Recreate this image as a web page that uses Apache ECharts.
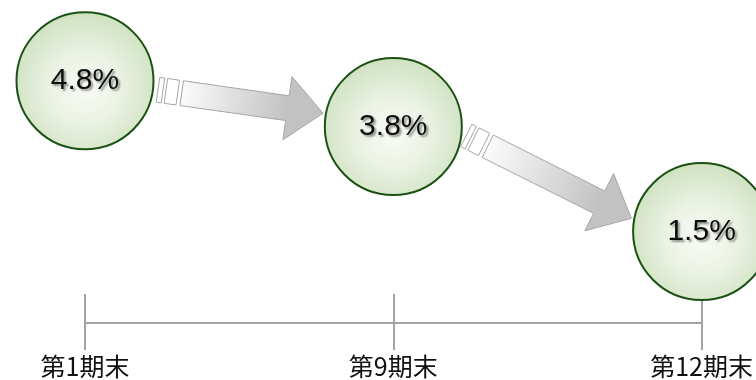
<!DOCTYPE html>
<html>
<head>
<meta charset="utf-8">
<script src="https://cdn.jsdelivr.net/npm/echarts@6/dist/echarts.min.js"></script>
<style>
  html, body { margin: 0; padding: 0; background: #ffffff; }
  #chart { width: 756px; height: 380px; }
</style>
</head>
<body>
<div id="chart"></div>
<script>
// Period labels along the timeline and the rate shown in each bubble (%)
const periods = ['第1期末', '第9期末', '第12期末'];
const rates = [4.8, 3.8, 1.5];

const chart = echarts.init(document.getElementById('chart'), null, { renderer: 'canvas' });

const BUBBLE = 137;                       // bubble diameter in px
const points = rates.map((v, i) => [i, v]);
// each arrow joins one bubble to the next
const links = rates.slice(0, -1).map((v, i) => [i, v, i + 1, rates[i + 1]]);

const AXIS_GRAY = '#a3a3a3';
const CJK = '"Noto Sans CJK JP", "Noto Sans CJK SC", sans-serif';

function arrowItem(params, api) {
  const a = api.coord([api.value(0), api.value(1)]);
  const b = api.coord([api.value(2), api.value(3)]);
  const r = BUBBLE / 2;
  const sAng = 7 * Math.PI / 180;
  const eAng = 10.7 * Math.PI / 180;
  const s = [a[0] + (r + 5) * Math.cos(sAng), a[1] + (r + 5) * Math.sin(sAng)];
  const e = [b[0] - (r + 3) * Math.cos(eAng), b[1] - (r + 3) * Math.sin(eAng)];
  const dx = e[0] - s[0], dy = e[1] - s[1];
  const L = Math.hypot(dx, dy);
  const ux = dx / L, uy = dy / L;
  const vx = -uy, vy = ux;
  const P = (u, v) => [s[0] + u * ux + v * vx, s[1] + u * uy + v * vy];
  const hw = 12.5, headLen = 36, headHw = 32, bodyStart = 24;
  const stroke = '#a6a6a6';
  const rect = (u0, u1) => ({
    type: 'polygon',
    shape: { points: [P(u0, -hw), P(u1, -hw), P(u1, hw), P(u0, hw)] },
    style: { fill: '#ffffff', stroke: stroke, lineWidth: 1 }
  });
  const g0 = P(bodyStart, 0), g1 = P(L - headLen, 0);
  return {
    type: 'group',
    children: [
      rect(0, 5),
      rect(8, 20),
      {
        type: 'polygon',
        shape: {
          points: [
            P(bodyStart, -hw), P(L - headLen, -hw), P(L - headLen, -headHw),
            P(L, 0),
            P(L - headLen, headHw), P(L - headLen, hw), P(bodyStart, hw)
          ]
        },
        style: {
          fill: new echarts.graphic.LinearGradient(g0[0], g0[1], g1[0], g1[1], [
            { offset: 0, color: '#fbfbfb' },
            { offset: 1, color: '#c2c2c2' }
          ], true),
          stroke: stroke,
          lineWidth: 1
        }
      }
    ]
  };
}

// the timeline sits below the zero level, so the value range starts under 0
const gridBox = { left: 85, right: 54, top: 26, bottom: 57 };
const Y_MIN = -0.5, Y_MAX = 6;

chart.setOption({
  animation: false,
  backgroundColor: '#ffffff',
  grid: [Object.assign({}, gridBox), Object.assign({}, gridBox)],
  xAxis: [
    {
      gridIndex: 0,
      type: 'category',
      data: periods,
      boundaryGap: false,
      position: 'bottom',
      axisLine: { onZero: false, lineStyle: { color: AXIS_GRAY, width: 2 } },
      axisTick: { length: 27, interval: 0, lineStyle: { color: AXIS_GRAY, width: 2 } },
      axisLabel: {
        interval: 0, margin: 31, fontSize: 25, lineHeight: 25,
        fontFamily: CJK, color: '#111111'
      },
      splitLine: { show: false }
    },
    {
      gridIndex: 1,
      type: 'category',
      data: periods,
      boundaryGap: false,
      position: 'bottom',
      axisLine: { show: false, onZero: false },
      axisTick: { inside: true, length: 29, interval: 0, lineStyle: { color: AXIS_GRAY, width: 2 } },
      axisLabel: { show: false },
      splitLine: { show: false }
    }
  ],
  yAxis: [
    { gridIndex: 0, type: 'value', min: Y_MIN, max: Y_MAX, show: false },
    { gridIndex: 1, type: 'value', min: Y_MIN, max: Y_MAX, show: false }
  ],
  series: [
    {
      type: 'custom',
      xAxisIndex: 0,
      yAxisIndex: 0,
      clip: false,
      z: 2,
      silent: true,
      data: links,
      renderItem: arrowItem
    },
    {
      type: 'scatter',
      xAxisIndex: 0,
      yAxisIndex: 0,
      clip: false,
      z: 3,
      symbol: 'circle',
      symbolSize: BUBBLE,
      data: points,
      itemStyle: {
        color: new echarts.graphic.RadialGradient(0.5, 0.55, 0.55, [
          { offset: 0, color: '#f9fbf6' },
          { offset: 0.45, color: '#ebf3e4' },
          { offset: 1, color: '#cfe1c0' }
        ]),
        borderColor: '#1b5214',
        borderWidth: 2,
        opacity: 1
      },
      label: {
        show: true,
        position: 'inside',
        formatter: p => rates[p.dataIndex].toFixed(1) + '%',
        fontFamily: '"Liberation Sans", Arial, sans-serif',
        fontSize: 30,
        color: '#0d0d0d',
        textShadowColor: 'rgba(0,0,0,0.4)',
        textShadowBlur: 2,
        textShadowOffsetX: 2,
        textShadowOffsetY: 2
      },
      emphasis: { disabled: true }
    }
  ]
});
</script>
</body>
</html>
